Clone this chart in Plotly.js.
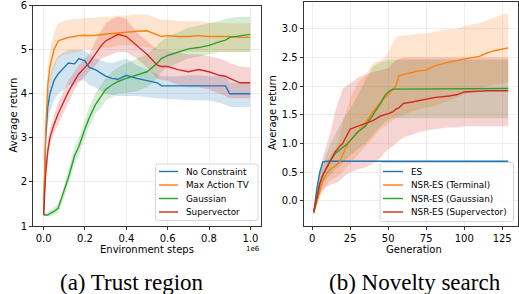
<!DOCTYPE html>
<html><head><meta charset="utf-8">
<script src="https://cdn.plot.ly/plotly-3.0.1.min.js"></script>
<style>html,body{margin:0;padding:0;background:#fff}#c{width:519px;height:294px}</style>
</head><body><div id="c"></div>
<script>
// ---------- Panel (a): Trust region ----------
const stepsA = [0, 0.01, 0.02, 0.03, 0.05, 0.07, 0.1, 0.12, 0.15, 0.17, 0.2, 0.22, 0.25, 0.28, 0.3, 0.33, 0.36, 0.4, 0.45, 0.5, 0.55, 0.57, 0.6, 0.65, 0.7, 0.75, 0.8, 0.85, 0.88, 0.9, 0.95, 1.0].map(v => v * 1e6);
const namesA = ["No Constraint", "Max Action TV", "Gaussian", "Supervector"];
const noConstraint      = [1.25, 3.0, 3.7, 4.0, 4.3, 4.45, 4.6, 4.7, 4.68, 4.8, 4.75, 4.6, 4.55, 4.45, 4.4, 4.35, 4.33, 4.42, 4.35, 4.3, 4.25, 4.18, 4.18, 4.18, 4.18, 4.18, 4.18, 4.18, 4.18, 4.0, 4.0, 4.0];
const noConstraintLo    = [1.25, 2.7, 3.3, 3.6, 3.85, 4.0, 4.1, 4.2, 4.2, 4.3, 4.3, 4.2, 4.15, 4.05, 4.0, 3.98, 3.95, 3.95, 3.95, 3.92, 3.9, 3.88, 3.88, 3.87, 3.86, 3.85, 3.85, 3.8, 3.75, 3.7, 3.7, 3.7];
const noConstraintHi    = [1.25, 3.3, 4.1, 4.4, 4.7, 4.85, 4.95, 5.0, 5.0, 5.0, 4.98, 4.9, 4.8, 4.75, 4.72, 4.7, 4.75, 4.8, 4.65, 4.55, 4.45, 4.4, 4.4, 4.4, 4.42, 4.42, 4.4, 4.4, 4.4, 4.25, 4.25, 4.25];
const maxActionTV       = [1.25, 3.2, 4.2, 4.6, 5.0, 5.2, 5.25, 5.28, 5.3, 5.32, 5.33, 5.32, 5.33, 5.35, 5.35, 5.37, 5.38, 5.4, 5.42, 5.43, 5.35, 5.3, 5.32, 5.3, 5.3, 5.32, 5.3, 5.3, 5.3, 5.3, 5.28, 5.28];
const maxActionTVLo     = [1.25, 2.9, 3.8, 4.2, 4.6, 4.8, 4.9, 4.9, 4.95, 4.95, 5.0, 5.0, 5.0, 5.05, 5.05, 5.05, 5.1, 5.1, 5.1, 5.05, 5.0, 4.98, 4.98, 4.95, 4.95, 4.95, 4.95, 4.95, 4.95, 4.95, 4.95, 4.95];
const maxActionTVHi     = [1.25, 3.5, 4.6, 5.0, 5.4, 5.6, 5.65, 5.68, 5.7, 5.7, 5.72, 5.72, 5.72, 5.75, 5.75, 5.75, 5.78, 5.78, 5.8, 5.8, 5.72, 5.68, 5.68, 5.65, 5.65, 5.65, 5.62, 5.6, 5.6, 5.6, 5.6, 5.6];
const gaussianA         = [1.25, 1.25, 1.25, 1.28, 1.33, 1.4, 1.8, 2.1, 2.6, 2.8, 3.2, 3.45, 3.75, 3.95, 4.1, 4.2, 4.28, 4.35, 4.42, 4.5, 4.7, 4.8, 4.87, 4.95, 5.02, 5.05, 5.1, 5.18, 5.22, 5.28, 5.32, 5.35];
const gaussianALo       = [1.25, 1.23, 1.22, 1.22, 1.25, 1.3, 1.65, 1.95, 2.4, 2.6, 3.0, 3.25, 3.55, 3.7, 3.85, 3.92, 4.0, 4.02, 4.05, 4.15, 4.35, 4.5, 4.6, 4.7, 4.8, 4.85, 4.9, 4.95, 4.95, 4.95, 4.95, 4.95];
const gaussianAHi       = [1.25, 1.28, 1.3, 1.35, 1.42, 1.5, 1.95, 2.3, 2.8, 3.0, 3.45, 3.7, 4.0, 4.2, 4.35, 4.5, 4.6, 4.7, 4.8, 4.9, 5.1, 5.2, 5.3, 5.4, 5.5, 5.55, 5.6, 5.65, 5.7, 5.72, 5.75, 5.75];
const supervectorA      = [1.25, 2.2, 2.7, 3.0, 3.3, 3.55, 3.85, 4.05, 4.3, 4.45, 4.6, 4.7, 4.9, 5.1, 5.2, 5.28, 5.35, 5.3, 5.1, 4.9, 4.65, 4.62, 4.62, 4.55, 4.5, 4.55, 4.5, 4.42, 4.4, 4.35, 4.25, 4.25];
const supervectorALo    = [1.25, 2.0, 2.5, 2.8, 3.1, 3.3, 3.6, 3.8, 4.1, 4.25, 4.4, 4.5, 4.65, 4.8, 4.85, 4.9, 4.95, 4.95, 4.8, 4.6, 4.35, 4.3, 4.3, 4.2, 4.15, 4.15, 4.1, 4.0, 3.95, 3.9, 3.9, 3.9];
const supervectorAHi    = [1.25, 2.4, 2.9, 3.2, 3.5, 3.8, 4.1, 4.3, 4.5, 4.65, 4.8, 4.9, 5.2, 5.45, 5.6, 5.7, 5.75, 5.7, 5.4, 5.2, 5.0, 5.0, 4.98, 4.95, 4.9, 4.9, 4.85, 4.8, 4.75, 4.7, 4.62, 4.6];
const ticksA = [0, 0.2e6, 0.4e6, 0.6e6, 0.8e6, 1.0e6];
const tickTextA = ["0.0", "0.2", "0.4", "0.6", "0.8", "1.0"];

// ---------- Panel (b): Novelty search ----------
const gens = [1, 3, 5, 7, 10, 12, 15, 18, 20, 22, 25, 28, 30, 35, 40, 45, 48, 50, 53, 55, 57, 60, 65, 70, 75, 80, 90, 95, 100, 105, 110, 115, 120, 125, 129];
const namesB = ["ES", "NSR-ES (Terminal)", "NSR-ES (Gaussian)", "NSR-ES (Supervector)"];
const es        = [-0.2, 0.2, 0.5, 0.68, 0.69, 0.69, 0.69, 0.69, 0.69, 0.69, 0.69, 0.69, 0.69, 0.69, 0.69, 0.69, 0.69, 0.69, 0.69, 0.69, 0.69, 0.69, 0.69, 0.69, 0.69, 0.69, 0.69, 0.69, 0.69, 0.69, 0.69, 0.69, 0.69, 0.69, 0.69];
const esLo      = [-0.22, 0.16, 0.46, 0.66, 0.68, 0.68, 0.68, 0.68, 0.68, 0.68, 0.68, 0.68, 0.68, 0.68, 0.68, 0.68, 0.68, 0.68, 0.68, 0.68, 0.68, 0.68, 0.68, 0.68, 0.68, 0.68, 0.68, 0.68, 0.68, 0.68, 0.68, 0.68, 0.68, 0.68, 0.68];
const esHi      = [-0.18, 0.24, 0.54, 0.7, 0.7, 0.7, 0.7, 0.7, 0.7, 0.7, 0.7, 0.7, 0.7, 0.7, 0.7, 0.7, 0.7, 0.7, 0.7, 0.7, 0.7, 0.7, 0.7, 0.7, 0.7, 0.7, 0.7, 0.7, 0.7, 0.7, 0.7, 0.7, 0.7, 0.7, 0.7];
const terminal   = [-0.2, 0.0, 0.2, 0.35, 0.5, 0.55, 0.6, 0.68, 0.8, 0.92, 1.05, 1.15, 1.2, 1.35, 1.55, 1.72, 1.8, 1.85, 1.93, 2.0, 2.18, 2.2, 2.24, 2.27, 2.28, 2.35, 2.42, 2.45, 2.47, 2.5, 2.52, 2.58, 2.62, 2.65, 2.67];
const terminalHi = [-0.15, 0.1, 0.35, 0.55, 0.7, 0.8, 0.9, 1.1, 1.35, 1.55, 1.8, 1.95, 2.05, 2.2, 2.4, 2.45, 2.5, 2.6, 2.75, 2.85, 2.88, 2.88, 2.9, 2.92, 2.92, 2.95, 3.0, 3.0, 3.05, 3.08, 3.1, 3.15, 3.2, 3.25, 3.27];
const terminalLo = [-0.25, -0.1, 0.05, 0.15, 0.3, 0.35, 0.4, 0.45, 0.5, 0.55, 0.65, 0.75, 0.8, 0.95, 1.1, 1.25, 1.3, 1.35, 1.4, 1.45, 1.48, 1.5, 1.55, 1.6, 1.62, 1.65, 1.75, 1.8, 1.85, 1.9, 1.95, 2.0, 2.02, 2.05, 2.07];
const gaussianB   = [-0.2, 0.05, 0.3, 0.45, 0.6, 0.7, 0.82, 0.88, 0.93, 0.97, 1.05, 1.15, 1.2, 1.3, 1.5, 1.7, 1.85, 1.9, 1.95, 1.95, 1.96, 1.96, 1.96, 1.96, 1.96, 1.96, 1.96, 1.96, 1.96, 1.96, 1.96, 1.96, 1.96, 1.96, 1.96];
const gaussianBHi = [-0.15, 0.15, 0.45, 0.65, 0.85, 1.0, 1.15, 1.3, 1.4, 1.5, 1.6, 1.75, 1.85, 2.1, 2.35, 2.42, 2.45, 2.46, 2.46, 2.46, 2.46, 2.46, 2.46, 2.46, 2.46, 2.46, 2.46, 2.46, 2.46, 2.46, 2.46, 2.46, 2.46, 2.46, 2.46];
const gaussianBLo = [-0.25, -0.05, 0.15, 0.3, 0.4, 0.45, 0.55, 0.6, 0.65, 0.7, 0.8, 0.85, 0.9, 1.0, 1.15, 1.3, 1.38, 1.42, 1.44, 1.44, 1.44, 1.44, 1.44, 1.44, 1.44, 1.44, 1.44, 1.44, 1.44, 1.44, 1.44, 1.44, 1.44, 1.44, 1.44];
const supervectorB   = [-0.2, 0.05, 0.3, 0.45, 0.6, 0.7, 0.85, 0.95, 1.0, 1.1, 1.25, 1.28, 1.3, 1.35, 1.4, 1.48, 1.5, 1.52, 1.55, 1.6, 1.62, 1.7, 1.72, 1.75, 1.78, 1.8, 1.83, 1.85, 1.9, 1.91, 1.91, 1.92, 1.92, 1.92, 1.92];
const supervectorBHi = [-0.15, 0.2, 0.5, 0.75, 1.0, 1.2, 1.55, 1.8, 1.95, 2.0, 2.05, 2.1, 2.15, 2.2, 2.25, 2.28, 2.3, 2.32, 2.4, 2.45, 2.48, 2.5, 2.5, 2.5, 2.5, 2.5, 2.5, 2.5, 2.5, 2.5, 2.5, 2.5, 2.5, 2.5, 2.5];
const supervectorBLo = [-0.25, -0.1, 0.1, 0.2, 0.25, 0.28, 0.3, 0.35, 0.4, 0.45, 0.5, 0.52, 0.55, 0.58, 0.65, 0.75, 0.85, 0.9, 0.95, 1.0, 1.05, 1.1, 1.15, 1.2, 1.22, 1.25, 1.28, 1.28, 1.3, 1.3, 1.3, 1.3, 1.3, 1.3, 1.3];
const ticksB = [0, 25, 50, 75, 100, 125];

const colors = ["#1f77b4", "#ff7f0e", "#2ca02c", "#d62728"];
const fills = ["rgba(31,119,180,0.2)", "rgba(255,127,14,0.2)", "rgba(44,160,44,0.2)", "rgba(214,39,40,0.2)"];

function band(x, lo, hi, i, xa, ya) {
  return {x: x.concat(x.slice().reverse()), y: hi.concat(lo.slice().reverse()),
    fill: "toself", fillcolor: fills[i], line: {width: 0}, mode: "lines",
    hoverinfo: "skip", showlegend: false, xaxis: xa, yaxis: ya};
}
function line(x, y, i, name, xa, ya) {
  return {x: x, y: y, mode: "lines", name: name, line: {color: colors[i], width: 1.4},
    xaxis: xa, yaxis: ya, showlegend: false};
}
const seriesA = [[noConstraint, noConstraintLo, noConstraintHi], [maxActionTV, maxActionTVLo, maxActionTVHi],
  [gaussianA, gaussianALo, gaussianAHi], [supervectorA, supervectorALo, supervectorAHi]];
const seriesB = [[es, esLo, esHi], [terminal, terminalLo, terminalHi],
  [gaussianB, gaussianBLo, gaussianBHi], [supervectorB, supervectorBLo, supervectorBHi]];

const traces = [];
seriesA.forEach((s, i) => traces.push(band(stepsA, s[1], s[2], i, "x", "y")));
seriesA.forEach((s, i) => traces.push(line(stepsA, s[0], i, namesA[i], "x", "y")));
seriesB.forEach((s, i) => traces.push(band(gens, s[1], s[2], i, "x2", "y2")));
seriesB.forEach((s, i) => traces.push(line(gens, s[0], i, namesB[i], "x2", "y2")));

const W = 519, H = 294;
const px = v => v / W, py = v => 1 - v / H;
const font = {family: "DejaVu Sans", size: 10, color: "#000"};
const axBase = {showline: true, mirror: true, linecolor: "#000", linewidth: 0.8, ticks: "outside",
  ticklen: 3.5, tickwidth: 0.8, tickcolor: "#000", showgrid: true, gridcolor: "#ebebeb", gridwidth: 0.8,
  zeroline: false, tickfont: font};

// hand-drawn legends (matplotlib style, compact rows)
const shapes = [], annotations = [];
function roundedBox(x0, y0, x1, y1, r) {
  const X = v => px(v), Y = v => py(v);
  return {type: "path", xref: "paper", yref: "paper", layer: "above",
    path: `M ${X(x0 + r)} ${Y(y0)} L ${X(x1 - r)} ${Y(y0)} Q ${X(x1)} ${Y(y0)} ${X(x1)} ${Y(y0 + r)} L ${X(x1)} ${Y(y1 - r)} Q ${X(x1)} ${Y(y1)} ${X(x1 - r)} ${Y(y1)} L ${X(x0 + r)} ${Y(y1)} Q ${X(x0)} ${Y(y1)} ${X(x0)} ${Y(y1 - r)} L ${X(x0)} ${Y(y0 + r)} Q ${X(x0)} ${Y(y0)} ${X(x0 + r)} ${Y(y0)} Z`,
    fillcolor: "rgba(255,255,255,0.8)", line: {color: "#cccccc", width: 0.8}};
}
function legend(names, box, lineX0, lineX1, textX, rows) {
  shapes.push(roundedBox(box[0], box[1], box[2], box[3], 2.5));
  names.forEach((n, i) => {
    shapes.push({type: "line", xref: "paper", yref: "paper", layer: "above",
      x0: px(lineX0), x1: px(lineX1), y0: py(rows[i]), y1: py(rows[i]), line: {color: colors[i], width: 1.4}});
    annotations.push({text: n, x: px(textX), y: py(rows[i]), xref: "paper", yref: "paper", showarrow: false,
      xanchor: "left", yanchor: "middle", font: {family: "DejaVu Sans", size: 8.8, color: "#000"}});
  });
}
legend(namesA, [155.5, 164, 258, 220.5], 159, 178, 183.5, [171.5, 185, 198.5, 212]);
legend(namesB, [380, 162.5, 513.5, 221.5], 383, 403, 408.5, [171.5, 185, 198.5, 212]);

annotations.push(
  {text: "Average return", x: px(12.5), y: py(115), xref: "paper", yref: "paper", textangle: -90, showarrow: false, font: font, xanchor: "center", yanchor: "middle"},
  {text: "Average return", x: px(272), y: py(113), xref: "paper", yref: "paper", textangle: -90, showarrow: false, font: font, xanchor: "center", yanchor: "middle"},
  {text: "Environment steps", x: px(147), y: py(250), xref: "paper", yref: "paper", showarrow: false, font: font, xanchor: "center", yanchor: "middle"},
  {text: "Generation", x: px(414), y: py(250), xref: "paper", yref: "paper", showarrow: false, font: font, xanchor: "center", yanchor: "middle"},
  {text: "1e6", x: px(253), y: py(248.5), xref: "paper", yref: "paper", showarrow: false, font: {family: "DejaVu Sans", size: 7, color: "#000"}, xanchor: "center", yanchor: "middle"},
  {text: "(a) Trust region", x: px(132), y: py(282), xref: "paper", yref: "paper", showarrow: false, font: {family: "Liberation Serif", size: 23, color: "#000"}, xanchor: "center", yanchor: "middle"},
  {text: "(b) Novelty search", x: px(415), y: py(282), xref: "paper", yref: "paper", showarrow: false, font: {family: "Liberation Serif", size: 23, color: "#000"}, xanchor: "center", yanchor: "middle"}
);

const layout = {
  width: W, height: H, margin: {l: 0, r: 0, t: 0, b: 0},
  paper_bgcolor: "#fff", plot_bgcolor: "#fff", showlegend: false,
  xaxis: Object.assign({}, axBase, {domain: [33.3/W, 260.7/W], range: [-0.05e6, 1.05e6], tickvals: ticksA, ticktext: tickTextA, anchor: "y"}),
  yaxis: Object.assign({}, axBase, {domain: [1 - 226/H, 1 - 5.7/H], range: [1, 6], tickvals: [1, 2, 3, 4, 5, 6], anchor: "x"}),
  xaxis2: Object.assign({}, axBase, {domain: [304/W, 518/W], range: [-5.4, 135.4], tickvals: ticksB, anchor: "y2"}),
  yaxis2: Object.assign({}, axBase, {domain: [1 - 226/H, 1 - 2/H], range: [-0.44, 3.47], tickvals: [0, 0.5, 1, 1.5, 2, 2.5, 3], ticktext: ["0.0", "0.5", "1.0", "1.5", "2.0", "2.5", "3.0"], anchor: "x2"}),
  shapes: shapes, annotations: annotations
};
Plotly.newPlot("c", traces, layout, {staticPlot: true, displayModeBar: false});
</script></body></html>
